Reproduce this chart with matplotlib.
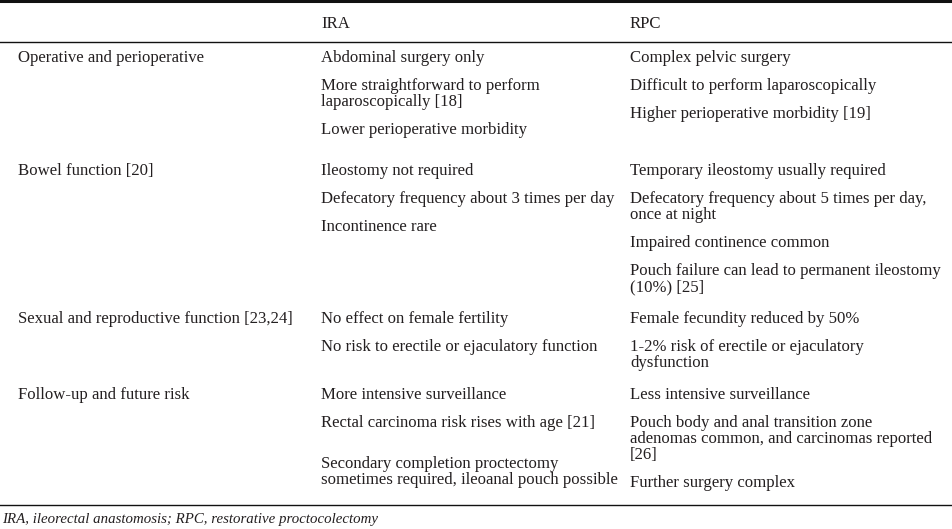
import matplotlib
matplotlib.use('Agg')
import matplotlib.pyplot as plt

# table content
col_heads = ['', 'IRA', 'RPC']
categories = ['Operative and perioperative',
              'Bowel function [20]',
              'Sexual and reproductive function [23,24]',
              'Follow-up and future risk']
ira_items = [
    ['Abdominal surgery only',
     'More straightforward to perform\nlaparoscopically [18]',
     'Lower perioperative morbidity'],
    ['Ileostomy not required',
     'Defecatory frequency about 3 times per day',
     'Incontinence rare'],
    ['No effect on female fertility',
     'No risk to erectile or ejaculatory function'],
    ['More intensive surveillance',
     'Rectal carcinoma risk rises with age [21]',
     'Secondary completion proctectomy\nsometimes required, ileoanal pouch possible'],
]
rpc_items = [
    ['Complex pelvic surgery',
     'Difficult to perform laparoscopically',
     'Higher perioperative morbidity [19]'],
    ['Temporary ileostomy usually required',
     'Defecatory frequency about 5 times per day,\nonce at night',
     'Impaired continence common',
     'Pouch failure can lead to permanent ileostomy\n(10%) [25]'],
    ['Female fecundity reduced by 50%',
     '1-2% risk of erectile or ejaculatory\ndysfunction'],
    ['Less intensive surveillance',
     'Pouch body and anal transition zone\nadenomas common, and carcinomas reported\n[26]',
     'Further surgery complex'],
]
footnote = 'IRA, ileorectal anastomosis; RPC, restorative proctocolectomy'

# layout (pixels, measured from top-left)
W, H = 953, 529
col_x = [18, 321, 630]
head_y = 28
row_y = [62, 175, 323, 399]
line_h = 16
item_gap = 28
extra = {(3, 2): 13}        # the last IRA cell sits a bit lower
ink = '#231f20'
serif = 'Liberation Serif'

fig = plt.figure(figsize=(W / 100, H / 100), dpi=100)
fig.patch.set_facecolor('white')
rend = fig.canvas.get_renderer()

# scale the font so a known line has the same width as in the picture
probe = fig.text(0, 0, 'Defecatory frequency about 3 times per day', fontsize=11, family=serif)
fs = 11 * 293 / probe.get_window_extent(rend).width
probe.remove()
probe = fig.text(0, 0, footnote, fontsize=11, family=serif, style='italic')
fs_note = 11 * 373 / probe.get_window_extent(rend).width
probe.remove()


def put(x, y, s, **kw):
    fig.text(x / W, 1 - y / H, s, fontsize=kw.pop('size', fs), family=serif,
             color=ink, va='baseline', ha='left', **kw)


def rule(y, lw):
    fig.add_artist(plt.Line2D([0, 1], [1 - y / H, 1 - y / H], color='#111111', lw=lw,
                              transform=fig.transFigure))


rule(1.2, 2.2)
rule(42, 1.0)
rule(505, 1.0)

for x, h in zip(col_x, col_heads):
    put(x, head_y, h)

for r, cat in enumerate(categories):
    put(col_x[0], row_y[r], cat)
    for c, cells in ((1, ira_items), (2, rpc_items)):
        y = row_y[r]
        for k, item in enumerate(cells[r]):
            if c == 1:
                y += extra.get((r, k), 0)
            for ln in item.split('\n'):
                put(col_x[c], y, ln)
                y += line_h
            y += item_gap - line_h

put(2, 523, footnote, size=fs_note, style='italic')

fig.savefig('out.png', dpi=100)
